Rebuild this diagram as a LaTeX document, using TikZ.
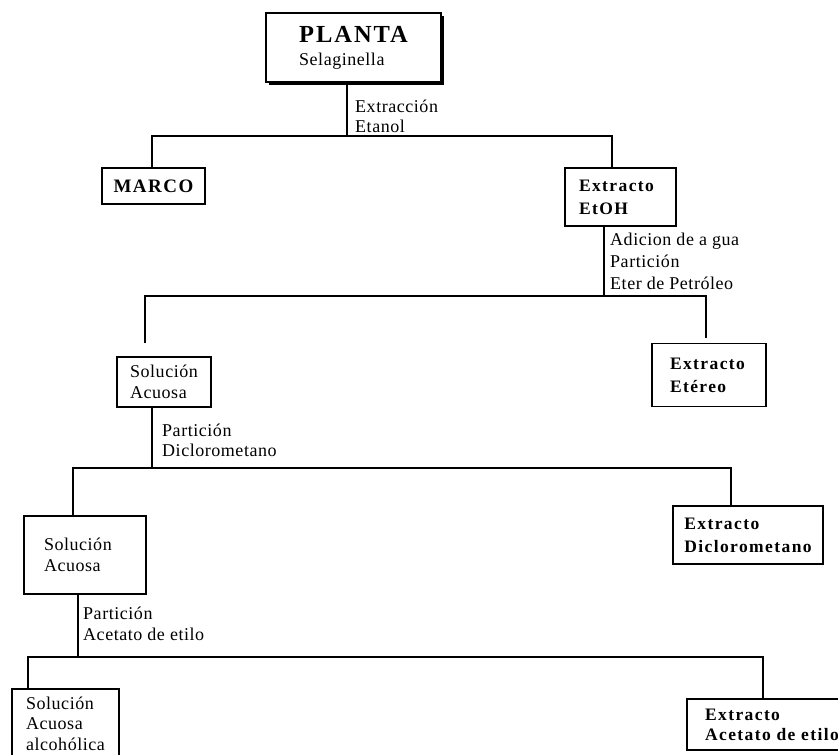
\documentclass[tikz,border=0pt]{standalone}
\usepackage{fontspec}
\setmainfont{Liberation Serif}[LetterSpace=3, BoldFeatures={LetterSpace=8}]
\usepackage{tikz}
\usetikzlibrary{positioning, calc, shadows}

\tikzset{
  box/.style={draw, line width=1.4pt, fill=white, inner sep=0pt, align=left,
    font=\fontsize{18}{21}\selectfont},
  boldbox/.style={box, font=\fontsize{17.5}{23}\selectfont\bfseries},
  lbl/.style={anchor=west, align=left, inner sep=0pt,
    font=\fontsize{18}{20}\selectfont},
  link/.style={line width=1.4pt}
}

\begin{document}
\begin{tikzpicture}[x=1pt, y=-1pt]
      \clip (0,0) rectangle (838,755);

      % Boxes
      \node[box, minimum width=175, minimum height=69,
        drop shadow={shadow xshift=3pt, shadow yshift=-3pt, fill=black, opacity=1}]
        (plant) at (353.5,47.5)
        {{\fontsize{24.5}{26}\selectfont\bfseries\addfontfeatures{LetterSpace=4}PLANTA}\\[2pt]Selaginella};
      \node[boldbox, font=\fontsize{19}{22}\selectfont\bfseries,
        minimum width=103, minimum height=36] (marco) at (153.5,186) {MARCO};
      \node[boldbox, minimum width=111, minimum height=58, text width=83] (etoh) at (620.5,197) {Extracto\\EtOH};

      \node[box, minimum width=94, minimum height=50] (acuA) at (164,382) {Solución\\Acuosa};
      \node[boldbox, minimum width=114, minimum height=63, text width=78] (etereo) at (709,375) {Extracto\\Etéreo};

      \node[box, minimum width=122, minimum height=78, text width=82] (acuB) at (85,555) {Solución\\Acuosa};
      \node[boldbox, minimum width=150, minimum height=58] (dcm) at (748,535) {Extracto\\Diclorometano};

      \node[box, minimum width=107, minimum height=69, font=\fontsize{18}{20.5}\selectfont] (alc) at (65.5,723.5) {Solución\\Acuosa\\alcohólica};
      \node[boldbox, minimum width=170, minimum height=51, font=\fontsize{17.5}{20}\selectfont\bfseries] (acet) at (772,724.5) {Extracto\\Acetato de etilo};

      % Steps
      \node[lbl] (ext) at (355,116) {Extracción\\Etanol};
      \node[lbl, font=\fontsize{18}{22}\selectfont] (part1) at (610,261) {Adicion de a gua\\Partición\\Eter de Petróleo};
      \node[lbl] (part2) at (162,440) {Partición\\Diclorometano};
      \node[lbl, font=\fontsize{18}{21}\selectfont] (part3) at (83,624) {Partición\\Acetato de etilo};

      % Connectors
      \coordinate (j1) at (347,136);
      \coordinate (j2) at (604,296);
      \coordinate (j3) at (152,468);
      \coordinate (j4) at (78,657);

      \draw[link] ([xshift=-6.5]plant.south) -- (j1);
      \draw[link] ([xshift=-1.5]marco.north) |- (j1) -| ([xshift=-8.5]etoh.north);

      \draw[link] ([xshift=-16.5]etoh.south) -- (j2);
      \draw[link, shorten <=13pt, shorten >=5pt]
        ([xshift=-19]acuA.north) |- (j2) -| ([xshift=-3]etereo.north);

      \draw[link] ([xshift=-12]acuA.south) -- (j3);
      \draw[link] ([xshift=-12]acuB.north) |- (j3) -| ([xshift=-17]dcm.north);

      \draw[link] ([xshift=-7]acuB.south) -- (j4);
      \draw[link] ([xshift=-37.5]alc.north) |- (j4) -| ([xshift=-9]acet.north);
\end{tikzpicture}
\end{document}
